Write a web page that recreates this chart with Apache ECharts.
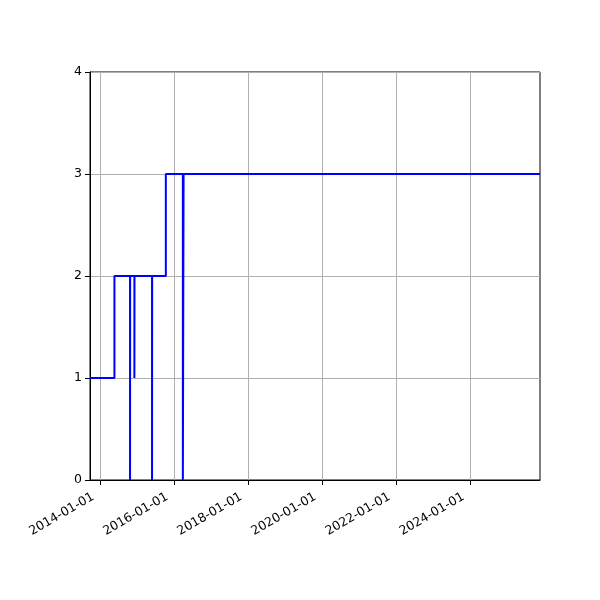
<!DOCTYPE html>
<html>
<head>
<meta charset="utf-8">
<script src="https://cdn.jsdelivr.net/npm/echarts@6/dist/echarts.min.js"></script>
<style>html,body{margin:0;padding:0;background:#fff;}#c{width:600px;height:600px;}</style>
</head>
<body>
<div id="c"></div>
<script>
// Step series (value holds until the next date)
const dates = [
  '2013-09-23', '2014-05-22', '2014-10-23', '2014-10-24', '2014-12-05', '2014-12-06',
  '2015-05-28', '2015-05-29', '2015-10-11', '2016-03-27', '2016-04-03', '2025-11-18'
];
const values = [1, 2, 0, 2, 1, 2, 0, 2, 3, 0, 3, 3];
const xTickLabels = ['2014-01-01', '2016-01-01', '2018-01-01', '2020-01-01', '2022-01-01', '2024-01-01'];
const yTicks = [0, 1, 2, 3, 4];

const T = s => +echarts.time.parse(s);
const seriesData = dates.map((d, i) => [T(d), values[i]]);
const xTickValues = xTickLabels.map(T);

const chart = echarts.init(document.getElementById('c'), null, {renderer: 'canvas'});
const font = 'DejaVu Sans';
chart.setOption({
  animation: false,
  backgroundColor: '#fff',
  grid: {left: 90, right: 60, top: 72, bottom: 120, show: true, borderColor: '#000', borderWidth: 1, backgroundColor: 'transparent'},
  xAxis: {
    type: 'value',
    min: T(dates[0]),
    max: T(dates[dates.length - 1]),
    axisLine: {show: true, onZero: false, lineStyle: {color: '#000', width: 1}},
    axisTick: {show: true, length: 5, customValues: xTickValues, lineStyle: {color: '#000'}},
    axisLabel: {
      customValues: xTickValues,
      rotate: 30,
      margin: 12,
      padding: [0, 8, 0, 0],
      color: '#000',
      fontFamily: font,
      fontSize: 12.5,
      formatter: v => echarts.time.format(v, '{yyyy}-{MM}-{dd}', false)
    },
    splitLine: {show: true, lineStyle: {color: '#b0b0b0', width: 1}}
  },
  yAxis: {
    type: 'value',
    min: yTicks[0],
    max: yTicks[yTicks.length - 1],
    interval: 1,
    axisLine: {show: true, lineStyle: {color: '#000', width: 1}},
    axisTick: {show: true, length: 5, lineStyle: {color: '#000'}},
    axisLabel: {color: '#000', fontFamily: font, fontSize: 12.5, margin: 8},
    splitLine: {show: true, lineStyle: {color: '#b0b0b0', width: 1}}
  },
  series: [{
    type: 'line',
    step: 'end',
    data: seriesData,
    showSymbol: false,
    symbol: 'none',
    clip: true,
    lineStyle: {color: '#0000ff', width: 2},
    itemStyle: {color: '#0000ff'}
  }]
});
</script>
</body>
</html>
